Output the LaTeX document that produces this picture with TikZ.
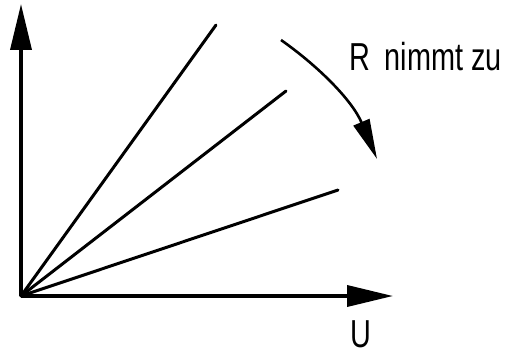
\documentclass[tikz,border=0pt]{standalone}
\usepackage{fontspec}
\usetikzlibrary{arrows.meta}
\newfontfamily\labelfont[FakeStretch=0.74]{Liberation Sans}

\begin{document}
\begin{tikzpicture}[
        x=1pt, y=1pt,
        % Style pour les axes
        axisLine/.style={
            line width=3.6pt,
            -{Triangle[length=46pt, width=21pt]}
        },
        % Style pour les droites U-I
        kennLinie/.style={
            line width=3pt,
            line cap=round
        },
        % Style pour la flèche courbe
        bogenPfeil/.style={
            line width=2.6pt,
            -{Triangle[length=40pt, width=17pt]}
        },
        % Style pour les textes
        labelText/.style={
            inner sep=0pt,
            anchor=base west,
            font=\labelfont\fontsize{39}{39}\selectfont
        }
    ]
    \useasboundingbox (0,0) rectangle (511,354);

    % Points
    \coordinate (O) at (21,58);
    \coordinate (Ytip) at (21,350);
    \coordinate (Xtip) at (393,58);
    \coordinate (L1) at (216,329);
    \coordinate (L2) at (286,263);
    \coordinate (L3) at (338,164);
    \coordinate (A) at (281,314);
    \coordinate (B) at (377,195);

    % Axes
    \draw[axisLine] (O) -- (Ytip);
    \draw[axisLine] (O) -- (Xtip);

    % Droites
    \draw[kennLinie] (O) -- (L1);
    \draw[kennLinie] (O) -- (L2);
    \draw[kennLinie] (O) -- (L3);

    % Flèche courbe
    \draw[bogenPfeil] (A) .. controls (318,288) and (352,254) .. (B);

    % Textes
    \node[labelText] (Rtext) at (349,283) {R\, nimmt zu};
    \node[labelText] (Utext) at (350,7) {U};

\end{tikzpicture}
\end{document}
